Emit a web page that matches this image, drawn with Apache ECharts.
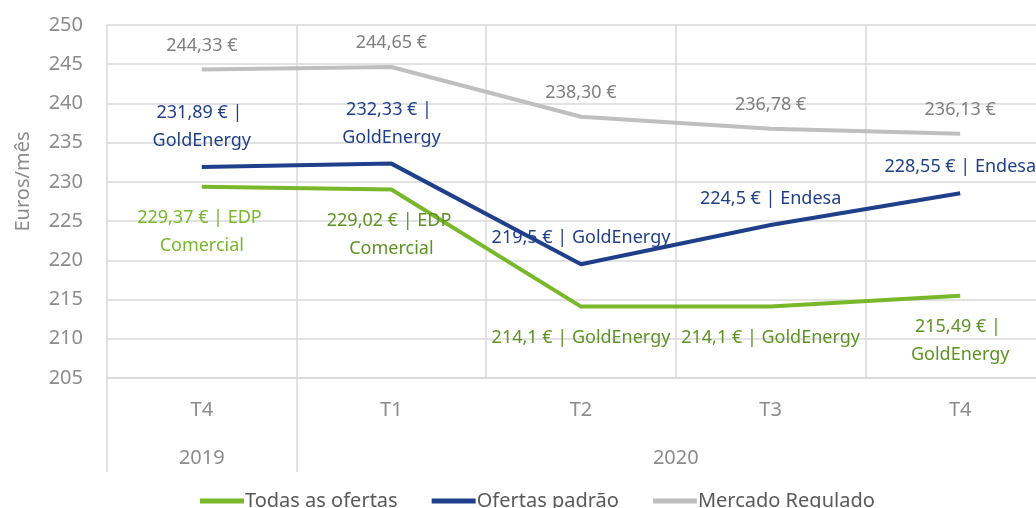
<!DOCTYPE html>
<html>
<head>
<meta charset="utf-8">
<script src="https://cdn.jsdelivr.net/npm/echarts@6/dist/echarts.min.js"></script>
<style>
  html, body { margin: 0; padding: 0; background: #fff; }
  #chart { width: 1036px; height: 508px; }
</style>
</head>
<body>
<div id="chart"></div>
<script>
var categories = ['T4', 'T1', 'T2', 'T3', 'T4']
var years = ['2019', '2020']
var yearSpans = [1, 4]

var todasValues = [229.37, 229.02, 214.1, 214.1, 215.49]
var todasSuppliers = ['EDP Comercial', 'EDP Comercial', 'GoldEnergy', 'GoldEnergy', 'GoldEnergy']
var padraoValues = [231.89, 232.33, 219.5, 224.5, 228.55]
var padraoSuppliers = ['GoldEnergy', 'GoldEnergy', 'GoldEnergy', 'Endesa', 'Endesa']
var reguladoValues = [244.33, 244.65, 238.30, 236.78, 236.13]

var COLORS = {
  green: '#78B82A',
  greenDark: '#5E9324',
  blue: '#203F8A',
  gray: '#BFBFBF',
  grayText: '#7F7F7F',
  axis: '#8C8C8C',
  grid: '#D9D9D9'
}
var FONT = '"Noto Sans", sans-serif'

function euro(v) {
  return String(v).replace('.', ',') + ' €'
}

// label width per point: null = single line
function buildData(values, suppliers, wrapWidths, colors, position, distance) {
  return values.map(function (v, i) {
    var text = suppliers ? euro(v) + ' | ' + suppliers[i] : v.toFixed(2).replace('.', ',') + ' €'
    var label = {
      show: true,
      position: position,
      distance: distance,
      formatter: text,
      color: colors[i],
      fontFamily: FONT,
      fontSize: 18,
      lineHeight: 28,
      align: 'center'
    }
    if (wrapWidths && wrapWidths[i]) {
      label.width = wrapWidths[i]
      label.overflow = 'break'
    }
    return { value: v, label: label }
  })
}

// year axis positions from spans
var yearCenters = []
var yearBounds = []
var acc = 0
yearSpans.forEach(function (s) {
  yearBounds.push(acc)
  yearCenters.push(acc + s / 2)
  acc += s
})

var chart = echarts.init(document.getElementById('chart'))
chart.setOption({
  animation: false,
  grid: { left: 107, right: -19, top: 25, bottom: 130, outerBoundsMode: 'none', containLabel: false },
  legend: {
    left: 195,
    top: 486,
    icon: 'rect',
    itemWidth: 44,
    itemHeight: 5,
    itemGap: 34,
    textStyle: { color: '#595959', fontSize: 20, fontFamily: FONT, padding: [0, 0, 0, -4] },
    data: ['Todas as ofertas', 'Ofertas padrão', 'Mercado Regulado']
  },
  xAxis: [
    {
      type: 'category',
      data: categories,
      axisLine: { lineStyle: { color: COLORS.grid, width: 1.5 } },
      axisTick: { show: false },
      axisLabel: { color: COLORS.axis, fontSize: 20, fontFamily: FONT, margin: 22 },
      splitLine: { show: true, lineStyle: { color: COLORS.grid, width: 1.5 } }
    },
    {
      type: 'value',
      min: 0,
      max: categories.length,
      position: 'bottom',
      axisLine: { show: false },
      splitLine: { show: false },
      axisTick: {
        show: true,
        customValues: yearBounds,
        length: 94,
        lineStyle: { color: COLORS.grid, width: 1.5 }
      },
      axisLabel: {
        customValues: yearCenters,
        color: COLORS.axis,
        fontSize: 20,
        fontFamily: FONT,
        margin: 70,
        formatter: function (v) {
          var idx = yearCenters.indexOf(v)
          return idx >= 0 ? years[idx] : ''
        }
      }
    }
  ],
  yAxis: {
    type: 'value',
    min: 205,
    max: 250,
    interval: 5,
    name: 'Euros/mês',
    nameLocation: 'middle',
    nameGap: 74,
    nameTextStyle: { color: COLORS.axis, fontSize: 20, fontFamily: FONT, padding: [0, 0, 0, 40] },
    axisLine: { show: false },
    axisTick: { show: false },
    axisLabel: { color: COLORS.axis, fontSize: 20, fontFamily: FONT, margin: 24 },
    splitLine: { lineStyle: { color: COLORS.grid, width: 1.5 } }
  },
  series: [
    {
      name: 'Todas as ofertas',
      type: 'line',
      symbol: 'circle',
      symbolSize: 0,
      lineStyle: { color: COLORS.green, width: 4 },
      itemStyle: { color: COLORS.green },
      data: buildData(todasValues, todasSuppliers, [140, 140, null, null, 110],
        [COLORS.green, COLORS.greenDark, COLORS.greenDark, COLORS.greenDark, COLORS.greenDark], 'bottom', 17)
    },
    {
      name: 'Ofertas padrão',
      type: 'line',
      symbol: 'circle',
      symbolSize: 0,
      lineStyle: { color: COLORS.blue, width: 4 },
      itemStyle: { color: COLORS.blue },
      data: buildData(padraoValues, padraoSuppliers, [110, 110, null, null, null],
        [COLORS.blue, COLORS.blue, COLORS.blue, COLORS.blue, COLORS.blue], 'top', 12)
    },
    {
      name: 'Mercado Regulado',
      type: 'line',
      symbol: 'circle',
      symbolSize: 0,
      lineStyle: { color: COLORS.gray, width: 4 },
      itemStyle: { color: COLORS.gray },
      data: buildData(reguladoValues, null, null,
        [COLORS.grayText, COLORS.grayText, COLORS.grayText, COLORS.grayText, COLORS.grayText], 'top', 10)
    }
  ]
})
</script>
</body>
</html>
